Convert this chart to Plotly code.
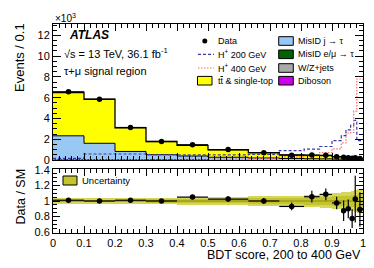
import numpy as np
import plotly.graph_objects as go

# ---------------- data ----------------
bin_edges = [0, 0.1, 0.2, 0.3, 0.4, 0.5, 0.63, 0.73, 0.81, 0.86, 0.9, 0.93, 0.945, 0.96, 0.97, 0.98, 1.0]

# stacked backgrounds, Events / 0.1 in units of 10^3
diboson   = [0.02, 0.02, 0.015, 0.01, 0.01, 0.01, 0.008, 0.006, 0.005, 0.005, 0.004, 0.003, 0.003, 0.002, 0.002, 0.002]
wzjets    = [0.06, 0.05, 0.04, 0.03, 0.025, 0.02, 0.015, 0.012, 0.01, 0.01, 0.008, 0.006, 0.005, 0.004, 0.004, 0.003]
misid_emu = [0.05, 0.04, 0.03, 0.02, 0.02, 0.015, 0.01, 0.01, 0.008, 0.008, 0.006, 0.005, 0.004, 0.004, 0.003, 0.003]
misid_j   = [2.2, 1.5, 0.74, 0.45, 0.33, 0.22, 0.16, 0.12, 0.1, 0.09, 0.07, 0.06, 0.05, 0.04, 0.035, 0.03]
ttbar     = [4.17, 4.24, 2.28, 1.27, 1.02, 0.72, 0.51, 0.35, 0.33, 0.31, 0.23, 0.23, 0.19, 0.17, 0.156, 0.11]

# signal overlays
hp200 = [0.15, 0.58, 0.58, 0.52, 0.5, 0.5, 0.55, 0.9, 1.05, 1.3, 1.87, 2.35, 2.9, 3.33, 3.82, 1.87]
hp400 = [0.03, 0.03, 0.04, 0.05, 0.06, 0.08, 0.12, 0.3, 0.4, 0.71, 1.07, 1.65, 2.6, 2.65, 4.7, 7.8]

# data
data     = [6.57, 5.85, 3.13, 1.78, 1.47, 1.0, 0.7, 0.465, 0.475, 0.455, 0.31, 0.265, 0.225, 0.17, 0.205, 0.135]
data_err = [0.05, 0.05, 0.04, 0.03, 0.03, 0.025, 0.025, 0.025, 0.035, 0.035, 0.03, 0.04, 0.035, 0.035, 0.06, 0.04]

# ratio panel
ratio     = [1.01, 1.0, 1.01, 1.0, 1.05, 1.025, 1.0, 0.93, 1.055, 1.085, 0.975, 0.875, 0.9, 0.775, 1.025, 0.89]
ratio_err = [0.012, 0.013, 0.018, 0.022, 0.03, 0.035, 0.04, 0.05, 0.075, 0.075, 0.08, 0.13, 0.12, 0.12, 0.3, 0.22]
unc_tot   = [0.035, 0.035, 0.035, 0.04, 0.05, 0.055, 0.06, 0.065, 0.08, 0.085, 0.1, 0.11, 0.12, 0.13, 0.14, 0.15]
unc_stat  = [0.015, 0.015, 0.018, 0.02, 0.025, 0.03, 0.033, 0.036, 0.045, 0.05, 0.06, 0.065, 0.07, 0.075, 0.08, 0.09]

x_ticks = [0, 0.1, 0.2, 0.3, 0.4, 0.5, 0.6, 0.7, 0.8, 0.9, 1.0]
x_ticktext = ["0", "0.1", "0.2", "0.3", "0.4", "0.5", "0.6", "0.7", "0.8", "0.9", "1"]
y_ticks = [0, 2, 4, 6, 8, 10, 12]
r_ticks = [0.6, 0.8, 1.0, 1.2, 1.4]
r_ticktext = ["0.6", "0.8", "1", "1.2", "1.4"]

# ---------------- derived ----------------
edges = np.array(bin_edges)
centers = 0.5 * (edges[1:] + edges[:-1])
widths = edges[1:] - edges[:-1]
halfw = widths / 2

FONT = "Liberation Sans"
W, H = 374, 268
L, R, T, B = 45, 19, 16, 43
PW, PH = W - L - R, H - T - B


def px(x):
    return (x - L) / PW


def py(y):
    return (H - B - y) / PH


C_TT = "#ffff00"
C_MJ = "#99c8f5"
C_ME = "#006400"
C_WZ = "#aaaaaa"
C_DB = "#cc00ee"
C_H200 = "#3a3aa8"
C_H400 = "#ff6a6a"
C_UNC = "#c4c430"
C_UNC2 = "#d6d65a"

DASH_H200 = "3px,2px"
DASH_H400 = "1.5px,1.5px"

fig = go.Figure()

stack = [("Diboson", diboson, C_DB), ("W/Z+jets", wzjets, C_WZ),
         ("MisID e/mu", misid_emu, C_ME), ("MisID j", misid_j, C_MJ),
         ("ttbar", ttbar, C_TT)]
for name, vals, col in stack:
    fig.add_trace(go.Bar(x=centers, y=vals, width=widths, marker=dict(color=col, line=dict(width=0)),
                         name=name, showlegend=False, xaxis="x", yaxis="y"))

cum = np.zeros(len(centers))
outline_levels = []
for name, vals, col in stack:
    cum = cum + np.array(vals)
    outline_levels.append(cum.copy())


def step(vals):
    v = list(vals)
    return list(edges), v + [v[-1]]


# outlines for misID j top and the total
for lev, lw in [(outline_levels[3], 1.0), (outline_levels[4], 1.3)]:
    sx, sy = step(lev)
    fig.add_trace(go.Scatter(x=sx, y=sy, mode="lines", line=dict(color="black", width=lw, shape="hv"),
                             showlegend=False, xaxis="x", yaxis="y", hoverinfo="skip"))

# signals
sx, sy = step(hp200)
fig.add_trace(go.Scatter(x=sx, y=sy, mode="lines", line=dict(color=C_H200, width=1.2, dash=DASH_H200, shape="hv"),
                         showlegend=False, xaxis="x", yaxis="y"))
sx, sy = step(hp400)
fig.add_trace(go.Scatter(x=sx, y=sy, mode="lines", line=dict(color=C_H400, width=1.2, dash=DASH_H400, shape="hv"),
                         showlegend=False, xaxis="x", yaxis="y"))

# data
fig.add_trace(go.Scatter(x=centers, y=data, mode="markers",
                         marker=dict(color="black", size=5.5),
                         error_y=dict(type="data", array=data_err, color="black", thickness=1.2, width=0),
                         error_x=dict(type="data", array=halfw, color="black", thickness=1.2, width=0),
                         showlegend=False, xaxis="x", yaxis="y"))

# ratio bands
fig.add_trace(go.Bar(x=centers, y=2 * np.array(unc_tot), base=1 - np.array(unc_tot), width=widths,
                     marker=dict(color=C_UNC2, line=dict(width=0)), showlegend=False, xaxis="x2", yaxis="y2"))
fig.add_trace(go.Bar(x=centers, y=2 * np.array(unc_stat), base=1 - np.array(unc_stat), width=widths,
                     marker=dict(color=C_UNC, line=dict(width=0)), showlegend=False, xaxis="x2", yaxis="y2"))
fig.add_trace(go.Scatter(x=[0, 1], y=[1, 1], mode="lines", line=dict(color="#8a8a10", width=1),
                         showlegend=False, xaxis="x2", yaxis="y2", hoverinfo="skip"))
fig.add_trace(go.Scatter(x=centers, y=ratio, mode="markers",
                         marker=dict(color="black", size=5.5),
                         error_y=dict(type="data", array=ratio_err, color="black", thickness=1.2, width=0),
                         error_x=dict(type="data", array=halfw, color="black", thickness=1.2, width=0),
                         showlegend=False, xaxis="x2", yaxis="y2", cliponaxis=True))

main_dom = [py(152), 1.0]
ratio_dom = [0.0, py(161)]

axis_common = dict(showline=True, linecolor="black", linewidth=1, mirror="allticks", ticks="inside",
                   showgrid=False, zeroline=False, tickcolor="black",
                   tickfont=dict(family=FONT, size=11, color="black"))

fig.update_layout(
    width=W, height=H, margin=dict(l=L, r=R, t=T, b=B),
    paper_bgcolor="white", plot_bgcolor="white",
    barmode="stack", bargap=0,
    font=dict(family=FONT, color="black"),
    xaxis=dict(domain=[0, 1], anchor="y", range=[0, 1], tickvals=x_ticks, showticklabels=False,
               ticklen=7, minor=dict(dtick=0.02, tick0=0, ticks="inside", ticklen=4, tickcolor="black"),
               matches="x2", **axis_common),
    yaxis=dict(domain=main_dom, anchor="x", range=[0, 13.1], tickvals=y_ticks, ticklen=8,
               minor=dict(dtick=0.5, tick0=0, ticks="inside", ticklen=4, tickcolor="black"), **axis_common),
    xaxis2=dict(domain=[0, 1], anchor="y2", range=[0, 1], tickvals=x_ticks, ticktext=x_ticktext,
                ticklen=7, minor=dict(dtick=0.02, tick0=0, ticks="inside", ticklen=4, tickcolor="black"),
                **axis_common),
    yaxis2=dict(domain=ratio_dom, anchor="x2", range=[0.59, 1.41], tickvals=r_ticks, ticktext=r_ticktext,
                ticklen=7, minor=dict(dtick=0.05, tick0=0.6, ticks="inside", ticklen=4, tickcolor="black"),
                **axis_common),
)

ann = []
shapes = []


def text(x, y, s, size=9, xanchor="left", angle=0, yanchor="middle", **kw):
    ann.append(dict(x=px(x), y=py(y), xref="paper", yref="paper", text=s, showarrow=False,
                    xanchor=xanchor, yanchor=yanchor, textangle=angle,
                    font=dict(family=FONT, size=size, color="black"), **kw))


text(45, 10, "×10<sup>3</sup>", size=10)
text(12, 50, "Events / 0.1", size=13, xanchor="center", angle=-90)
text(12, 188.5, "Data / SM", size=12.5, xanchor="center", angle=-90)
text(355, 247, "BDT score, 200 to 400 GeV", size=12.5, xanchor="right")
text(59, 27, "<b><i>ATLAS</i></b>", size=12)
text(54, 45, "√s = 13 TeV, 36.1 fb<sup>-1</sup>", size=11)
text(54, 62.5, "τ+μ signal region", size=11)

# legend column 1
rows = [33, 46.3, 60, 72.7]
shapes.append(dict(type="circle", xref="paper", yref="paper", x0=px(194.3), x1=px(199.3),
                   y0=py(rows[0] + 2.5), y1=py(rows[0] - 2.5), fillcolor="black", line=dict(width=0)))
shapes.append(dict(type="line", xref="paper", yref="paper", x0=px(190), x1=px(206), y0=py(rows[1]), y1=py(rows[1]),
                   line=dict(color=C_H200, width=1.2, dash=DASH_H200)))
shapes.append(dict(type="line", xref="paper", yref="paper", x0=px(190), x1=px(206), y0=py(rows[2]), y1=py(rows[2]),
                   line=dict(color=C_H400, width=1.2, dash=DASH_H400)))


def box(x0, x1, yc, col, hh=4.3):
    shapes.append(dict(type="rect", xref="paper", yref="paper", x0=px(x0), x1=px(x1), y0=py(yc + hh), y1=py(yc - hh),
                       fillcolor=col, line=dict(color="black", width=1)))


box(189.5, 204, rows[3], C_TT)
text(208, rows[0], "Data")
text(208, rows[1], "H<sup>+</sup> 200 GeV")
text(208, rows[2], "H<sup>+</sup> 400 GeV")
text(208, rows[3], "t<span style='text-decoration:overline'>t</span> &amp; single-top")

# legend column 2
for r, col, s in zip(rows, [C_MJ, C_ME, C_WZ, C_DB],
                     ["MisID j → τ", "MisID e/μ → τ", "W/Z+jets", "Diboson"]):
    box(270.7, 285.3, r, col)
    text(288, r, s)

# ratio legend
box(55, 69, 172.5, C_UNC, hh=4.5)
text(72, 172.5, "Uncertainty", size=9.5)

fig.update_layout(annotations=ann, shapes=shapes)
fig.write_html("out.html")
